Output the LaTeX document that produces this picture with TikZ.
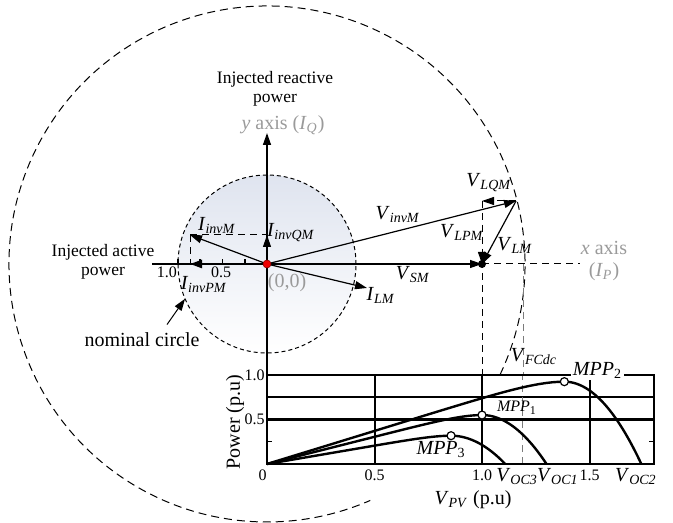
\documentclass[tikz,border=0pt]{standalone}
\usepackage{fontspec}
\setmainfont{Liberation Serif}
\usetikzlibrary{positioning, arrows.meta, calc}
\definecolor{axgray}{HTML}{9A9A9A}
\definecolor{nomblue}{HTML}{DFE4EF}
\definecolor{dotred}{HTML}{F00000}
\newcommand{\vsub}[2]{\textit{#1}\textsubscript{\textit{#2}}}

\begin{document}
\begin{tikzpicture}[
  x=0.5pt, y=0.5pt,
  >={Triangle[length=6pt,width=4pt]},
  phasor/.style={->, line width=0.6pt},
  proj/.style={->, dash pattern=on 3.5pt off 2.5pt, line width=0.5pt},
  guide/.style={dash pattern=on 3.5pt off 2.5pt, line width=0.5pt},
  axisln/.style={line width=0.7pt},
  gridln/.style={line width=1pt},
  curve/.style={line width=1.2pt},
  lbl/.style={font=\fontsize{10}{11}\selectfont, inner sep=1pt},
  smalllbl/.style={font=\fontsize{8.75}{9.5}\selectfont, align=center, inner sep=1pt},
  ticklbl/.style={font=\fontsize{8}{9}\selectfont, inner sep=1pt},
  graylbl/.style={lbl, text=axgray, align=center},
  mpp/.style={circle, draw, fill=white, line width=0.6pt, inner sep=0pt, minimum size=4pt},
]
\useasboundingbox (-267,-259) rectangle (406,264);

% nominal circle
\shade[top color=nomblue, bottom color=white] (0,0) circle (89);
\draw[dash pattern=on 2pt off 1.5pt, line width=0.5pt] (0,0) circle (89);

% V_FCdc circle, broken where the P-V plot sits
\draw[dash pattern=on 4pt off 2.5pt, line width=0.5pt]
  (-25.4:258) arc[start angle=-25.4, end angle=293.6, radius=258];

% phasor points
\coordinate (O) at (0,0);
\coordinate (yTop) at (0,131);
\coordinate (xLeft) at (-115,0);
\coordinate (IinvM) at (-77,29);
\coordinate (IinvPM) at (-77,0);
\coordinate (IinvQM) at (0,29);
\coordinate (ILM) at (100,-24);
\coordinate (Vinv) at (249,63);
\coordinate (Vsm) at (215,0);
\coordinate (Vlq) at (215,63);
\coordinate (xEnd) at (313,0);
\coordinate (Vfc) at (256,0);
\coordinate (nomtip) at (203:89);

% axes
\draw[axisln, ->] (0,-111) -- (yTop);
\draw[axisln] (xLeft) -- (O);
\foreach \t in {22,44.5,67,89}
  \draw[axisln] (-\t,0) -- ++(0,5);
\draw[guide] (Vsm) -- (xEnd);

% currents
\draw[guide] (IinvM) -- (IinvQM);
\draw[guide] (IinvM) -- (IinvPM);
\draw[phasor, line width=1.1pt] (O) -- (IinvPM);
\draw[phasor] (O) -- (IinvQM);
\draw[phasor] (O) -- (IinvM);
\draw[phasor] (O) -- (ILM);

% voltages
\draw[guide] (Vlq) -- (215,-111);
\draw[guide, axgray!80!black] (Vfc) -- (256,-111);
\draw[phasor] (O) -- (Vsm);
\draw[phasor] (O) -- (Vinv);
\draw[proj] (Vinv) -- (Vlq);
\draw[proj] (Vlq) -- (Vsm);
\draw[phasor] (Vinv) -- (Vsm);

\fill (Vsm) circle (4);
\filldraw[fill=dotred, draw=dotred!60!black, line width=0.3pt] (O) circle (4);

% labels
\node[smalllbl] (qlbl) at (8,175) {Injected reactive\\power};
\node[graylbl] (ylbl) at (16,139) {\textit{y} axis (\vsub{I}{Q})};
\node[smalllbl] (plbl) at (-164,2) {Injected active\\power};
\node[ticklbl] (t10) at (-100,-8) {1.0};
\node[ticklbl] (t05) at (-46,-8) {0.5};
\node[lbl] (linvpm) at (-63,-21) {\vsub{I}{invPM}};
\node[lbl] (linvm) at (-50,38) {\vsub{I}{invM}};
\node[lbl] (linvqm) at (24,31) {\vsub{I}{invQM}};
\node[graylbl] (origin) at (20,-19) {(0,0)};
\node[lbl] (llm) at (114,-31) {\vsub{I}{LM}};
\node[lbl] (lvinv) at (131,49) {\vsub{V}{invM}};
\node[lbl] (lvsm) at (146,-11) {\vsub{V}{SM}};
\node[lbl] (lvlqm) at (222,81) {\vsub{V}{LQM}};
\node[lbl] (lvlpm) at (195,32) {\vsub{V}{LPM}};
\node[lbl] (lvlm) at (248,19) {\vsub{V}{LM}};
\node[graylbl] (xlbl) at (337,3) {\textit{x} axis\\(\vsub{I}{P})};
\node[lbl] (nomlbl) at (-125,-76) {nominal circle};
\draw[->, line width=0.5pt] ($(nomlbl.north)+(25,6)$) -- (nomtip);
\node[lbl] (lvfc) at (267,-93) {\vsub{V}{FCdc}};

% P-V curves
\begin{scope}[shift={(0,-200)}, x=107.5pt, y=44.5pt]
  \draw[gridln] (0,0.75) -- (1.8,0.75);
  \draw[gridln, line width=1.1pt] (0,0.5) -- (1.8,0.5);
  \foreach \v in {0.5,1.0,1.5}
    \draw[gridln] (\v,0) -- (\v,1);
  \draw[axisln] (0,0.25) -- ++(0.025,0);
  \draw[axisln] (1.8,0.25) -- ++(-0.025,0);
  \draw[guide, axgray!80!black] (1.19,0) -- (1.19,1);

  % rise to the MPP, then drop to V_OC
  \foreach \vm/\pk/\vo in {1.383/0.925/1.741, 1.0/0.55/1.30, 0.856/0.318/1.108}
    \draw[curve] plot[domain=0:\vm, samples=50]
        (\x, {\pk*((10/9)*(\x/\vm) - ((\x/\vm)^10)/9)})
      -- plot[domain=\vm:\vo, samples=40]
        (\x, {\pk*(1-((\x-\vm)/(\vo-\vm))^2)});

  \draw[axisln] (0,0) rectangle (1.8,1);

  \node[mpp] (mpp2) at (1.383,0.925) {};
  \node[mpp] (mpp1) at (1.0,0.55) {};
  \node[mpp] (mpp3) at (0.856,0.318) {};
  \node[lbl, fill=white] (lmpp2) at (1.537,1.056) {\textit{MPP}\textsubscript{2}};
  \node[ticklbl] (lmpp1) at (1.163,0.63) {\textit{MPP}\textsubscript{1}};
  \node[lbl] (lmpp3) at (0.81,0.16) {\textit{MPP}\textsubscript{3}};

  \node[ticklbl, anchor=north] (px0) at (-0.02,-0.04) {0};
  \node[ticklbl, anchor=north] (px05) at (0.5,-0.04) {0.5};
  \node[ticklbl, anchor=north] (px10) at (1.0,-0.04) {1.0};
  \node[ticklbl, anchor=north] (px15) at (1.5,-0.04) {1.5};
  \node[lbl, anchor=north] (voc3) at (1.163,-0.02) {\vsub{V}{OC3}};
  \node[lbl, anchor=north] (voc1) at (1.353,-0.02) {\vsub{V}{OC1}};
  \node[lbl, anchor=north] (voc2) at (1.716,-0.02) {\vsub{V}{OC2}};
  \node[ticklbl, anchor=east] (py10) at (0,1) {1.0};
  \node[ticklbl, anchor=east] (py05) at (0,0.5) {0.5};
\end{scope}
\node[lbl, rotate=90] (powlbl) at (-32,-158) {Power (p.u)};
\node[lbl] (vpvlbl) at (206,-236) {\vsub{V}{PV} (p.u)};

\end{tikzpicture}
\end{document}
